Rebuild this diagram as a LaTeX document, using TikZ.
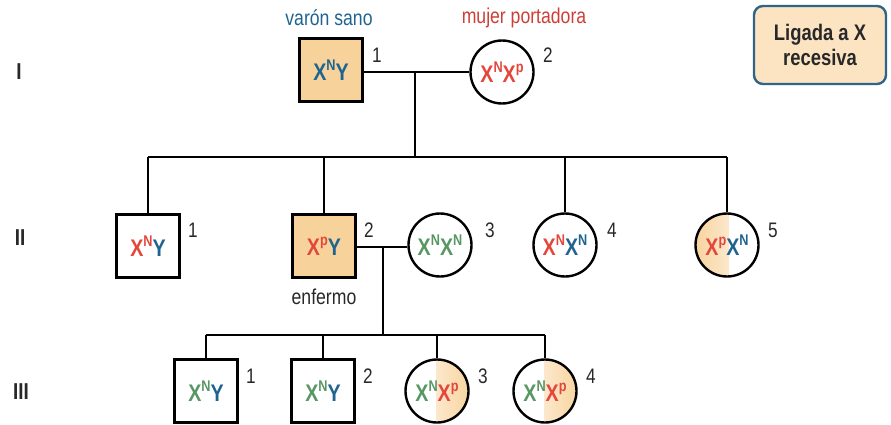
\documentclass[tikz,border=0pt]{standalone}
\usepackage{fontspec}
\setmainfont[FakeStretch=0.82]{Liberation Sans}
\definecolor{blueT}{RGB}{31,100,145}
\definecolor{redT}{RGB}{228,70,60}
\definecolor{greenT}{RGB}{88,150,100}
\definecolor{fillO}{RGB}{247,211,155}
\definecolor{fillL}{RGB}{252,232,205}
\definecolor{legendfill}{RGB}{252,228,195}
\definecolor{legendborder}{RGB}{45,100,135}
\definecolor{inkgray}{RGB}{40,40,40}
% allele: colour, letter, superscript
\newcommand\allele[3]{\textcolor{#1}{#2\raisebox{0.42em}{\fontsize{15.5}{15.5}\selectfont #3}}}
\newcommand\ychrom{\textcolor{blueT}{Y}}
\begin{document}
\begin{tikzpicture}[x=1pt,y=-1pt,
  male/.style={draw=black, line width=2.4pt, minimum size=63pt, inner sep=0pt,
    font=\fontsize{24}{24}\selectfont\bfseries},
  female/.style={circle, draw=black, line width=2.4pt, minimum size=63pt, inner sep=0pt,
    font=\fontsize{24}{24}\selectfont\bfseries},
  link/.style={line width=2.4pt},
  num/.style={font=\fontsize{21}{21}\selectfont, text=inkgray},
  gen/.style={font=\fontsize{23}{23}\selectfont\bfseries, text=inkgray},
  caption/.style={font=\fontsize{21.5}{21.5}\selectfont}]
\useasboundingbox (0,0) rectangle (891,425);

% generation labels
\node[gen] (gI) at (19,72) {I};
\node[gen] (gII) at (20,238) {II};
\node[gen] (gIII) at (21,392) {III};

% legend
\node[draw=legendborder, fill=legendfill, line width=2.4pt, rounded corners=9pt,
  minimum width=132pt, minimum height=78pt, align=center,
  font=\fontsize{22.5}{25}\selectfont\bfseries, text=inkgray] (legend) at (820,45) {Ligada a X\\recesiva};

% generation I
\node[male, fill=fillO] (I1) at (331,70) {\allele{blueT}{X}{N}\ychrom};
\node[female] (I2) at (502,72) {\allele{redT}{X}{N}\allele{redT}{X}{p}};
\node[num] (nI1) at (377,55) {1};
\node[num] (nI2) at (548,55) {2};
\node[caption, text=blueT] (cI1) at (329,18) {varón sano};
\node[caption, text=redT!90!black] (cI2) at (524,18) {mujer portadora};

% generation II (half-filled carrier drawn first)
\begin{scope}
  \clip (727,245) circle (31.5);
  \shade[left color=fillO, right color=fillL] (694,210) rectangle (729,280);
\end{scope}
\node[male] (II1) at (148,246) {\allele{redT}{X}{N}\ychrom};
\node[male, fill=fillO] (II2) at (324,246) {\allele{redT}{X}{p}\ychrom};
\node[female] (II3) at (440,245) {\allele{greenT}{X}{N}\allele{greenT}{X}{N}};
\node[female] (II4) at (565,245) {\allele{redT}{X}{N}\allele{blueT}{X}{N}};
\node[female] (II5) at (727,245) {\allele{redT}{X}{p}\allele{blueT}{X}{N}};
\node[num] (nII1) at (193,230) {1};
\node[num] (nII2) at (369,230) {2};
\node[num] (nII3) at (490,230) {3};
\node[num] (nII4) at (612,230) {4};
\node[num] (nII5) at (773,230) {5};
\node[caption, text=inkgray] (cII2) at (324,297) {enfermo};

% generation III (half-filled carriers drawn first)
\begin{scope}
  \clip (437,391) circle (31.5);
  \shade[left color=fillL, right color=fillO] (436,355) rectangle (472,428);
\end{scope}
\begin{scope}
  \clip (545,391) circle (31.5);
  \shade[left color=fillL, right color=fillO] (544,355) rectangle (580,428);
\end{scope}
\node[male] (III1) at (206,391) {\allele{greenT}{X}{N}\ychrom};
\node[male] (III2) at (323,391) {\allele{greenT}{X}{N}\ychrom};
\node[female] (III3) at (437,391) {\allele{greenT}{X}{N}\allele{redT}{X}{p}};
\node[female] (III4) at (545,391) {\allele{greenT}{X}{N}\allele{redT}{X}{p}};
\node[num] (nIII1) at (251,376) {1};
\node[num] (nIII2) at (368,376) {2};
\node[num] (nIII3) at (483,376) {3};
\node[num] (nIII4) at (591,376) {4};

% couple I and its descent line
\coordinate (mI) at (415,72);
\coordinate (sI) at (415,157);
\draw[link] (I1.east |- mI) -- (I2.west |- mI);
\draw[link] (mI) -- (sI);
\draw[link] (II1.north |- sI) -- (II5.north |- sI);
\foreach \k in {II1,II2,II4,II5} \draw[link] (\k.north |- sI) -- (\k.north);

% couple II-2 x II-3 and its descent line
\coordinate (mII) at (383,247);
\coordinate (sII) at (383,335);
\draw[link] (II2.east |- mII) -- (II3.west |- mII);
\draw[link] (mII) -- (sII);
\draw[link] (III1.north |- sII) -- (III4.north |- sII);
\foreach \k in {III1,III2,III3,III4} \draw[link] (\k.north |- sII) -- (\k.north);
\end{tikzpicture}
\end{document}
